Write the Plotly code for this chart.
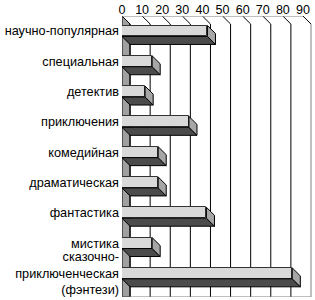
import plotly.graph_objects as go

categories = ["научно-популярная", "специальная", "детектив", "приключения",
              "комедийная", "драматическая", "фантастика", "мистика",
              "сказочно-<br>приключенческая<br>(фэнтези)"]
values = [42.5, 15, 11.5, 33.3, 18, 18, 42, 15, 84.7]
x_ticks = [0, 10, 20, 30, 40, 50, 60, 70, 80, 90]

# geometry of the pseudo-3D look (in axis units)
DX = 4.0          # depth, horizontal
DY = 0.264        # depth, vertical
HALF = 0.18       # half height of front face
Y_TOP = -0.495
Y_BOT = 8.78
X_MAX = 95.0

LIGHT = "#d9d9d9"
DARK = "#4b4b4b"
CAP = "#a6a6a6"
WALL = "#a0a0a0"

ys = list(range(len(categories)))

fig = go.Figure()

# dark (bottom) faces
dx, dy = [], []
for i, v in zip(ys, values):
    dx += [0, v, v + DX, DX, 0, None]
    dy += [i + HALF, i + HALF, i + HALF + DY, i + HALF + DY, i + HALF, None]
fig.add_trace(go.Scatter(x=dx, y=dy, mode="lines", fill="toself", fillcolor=DARK,
                         line=dict(color="black", width=1), hoverinfo="skip", showlegend=False))

# end caps
cx, cy = [], []
for i, v in zip(ys, values):
    cx += [v, v + DX, v + DX, v, v, None]
    cy += [i - HALF, i - HALF + DY, i + HALF + DY, i + HALF, i - HALF, None]
fig.add_trace(go.Scatter(x=cx, y=cy, mode="lines", fill="toself", fillcolor=CAP,
                         line=dict(color="black", width=1), hoverinfo="skip", showlegend=False))

# front faces
fig.add_trace(go.Bar(x=values, y=ys, orientation="h", width=2 * HALF,
                     marker=dict(color=LIGHT, line=dict(color="#333333", width=1)),
                     hoverinfo="skip", showlegend=False))

shapes = []
# left wall
shapes.append(dict(type="path", layer="below",
                   path=f"M 0 {Y_TOP} L {DX} {Y_TOP + DY} L {DX} {Y_BOT} L 0 {Y_BOT} Z",
                   fillcolor=WALL, line=dict(color="black", width=1)))
# back wall gridlines
for t in x_ticks:
    shapes.append(dict(type="line", layer="below", x0=t + DX, x1=t + DX,
                       y0=Y_TOP + DY, y1=Y_BOT,
                       line=dict(color="#808080" if t == x_ticks[-1] else "black", width=1)))
# ceiling diagonals
for t in x_ticks:
    shapes.append(dict(type="line", layer="below", x0=t, x1=t + DX,
                       y0=Y_TOP, y1=Y_TOP + DY, line=dict(color="black", width=1)))
# top front line
shapes.append(dict(type="line", layer="below", x0=0, x1=x_ticks[-1],
                   y0=Y_TOP, y1=Y_TOP, line=dict(color="#808080", width=1)))
# bottom line
shapes.append(dict(type="line", layer="below", x0=0, x1=x_ticks[-1] + DX,
                   y0=Y_BOT, y1=Y_BOT, line=dict(color="#808080", width=1)))

fig.update_layout(
    width=315, height=300,
    margin=dict(l=122, r=2, t=16, b=3),
    paper_bgcolor="white", plot_bgcolor="white",
    font=dict(family="Liberation Sans, Arial", size=12, color="black"),
    shapes=shapes,
    bargap=0,
    xaxis=dict(range=[0, X_MAX], side="top", tickvals=x_ticks,
               tickfont=dict(size=12.5),
               showgrid=False, zeroline=False, showline=False, ticks="",
               ticklabelstandoff=-1, fixedrange=True),
    yaxis=dict(range=[Y_BOT, Y_TOP], tickvals=ys, ticktext=categories,
               tickfont=dict(size=12.7),
               showgrid=False, zeroline=False, showline=False, ticks="",
               ticklabelstandoff=2, fixedrange=True),
)

fig.write_html("out.html")
